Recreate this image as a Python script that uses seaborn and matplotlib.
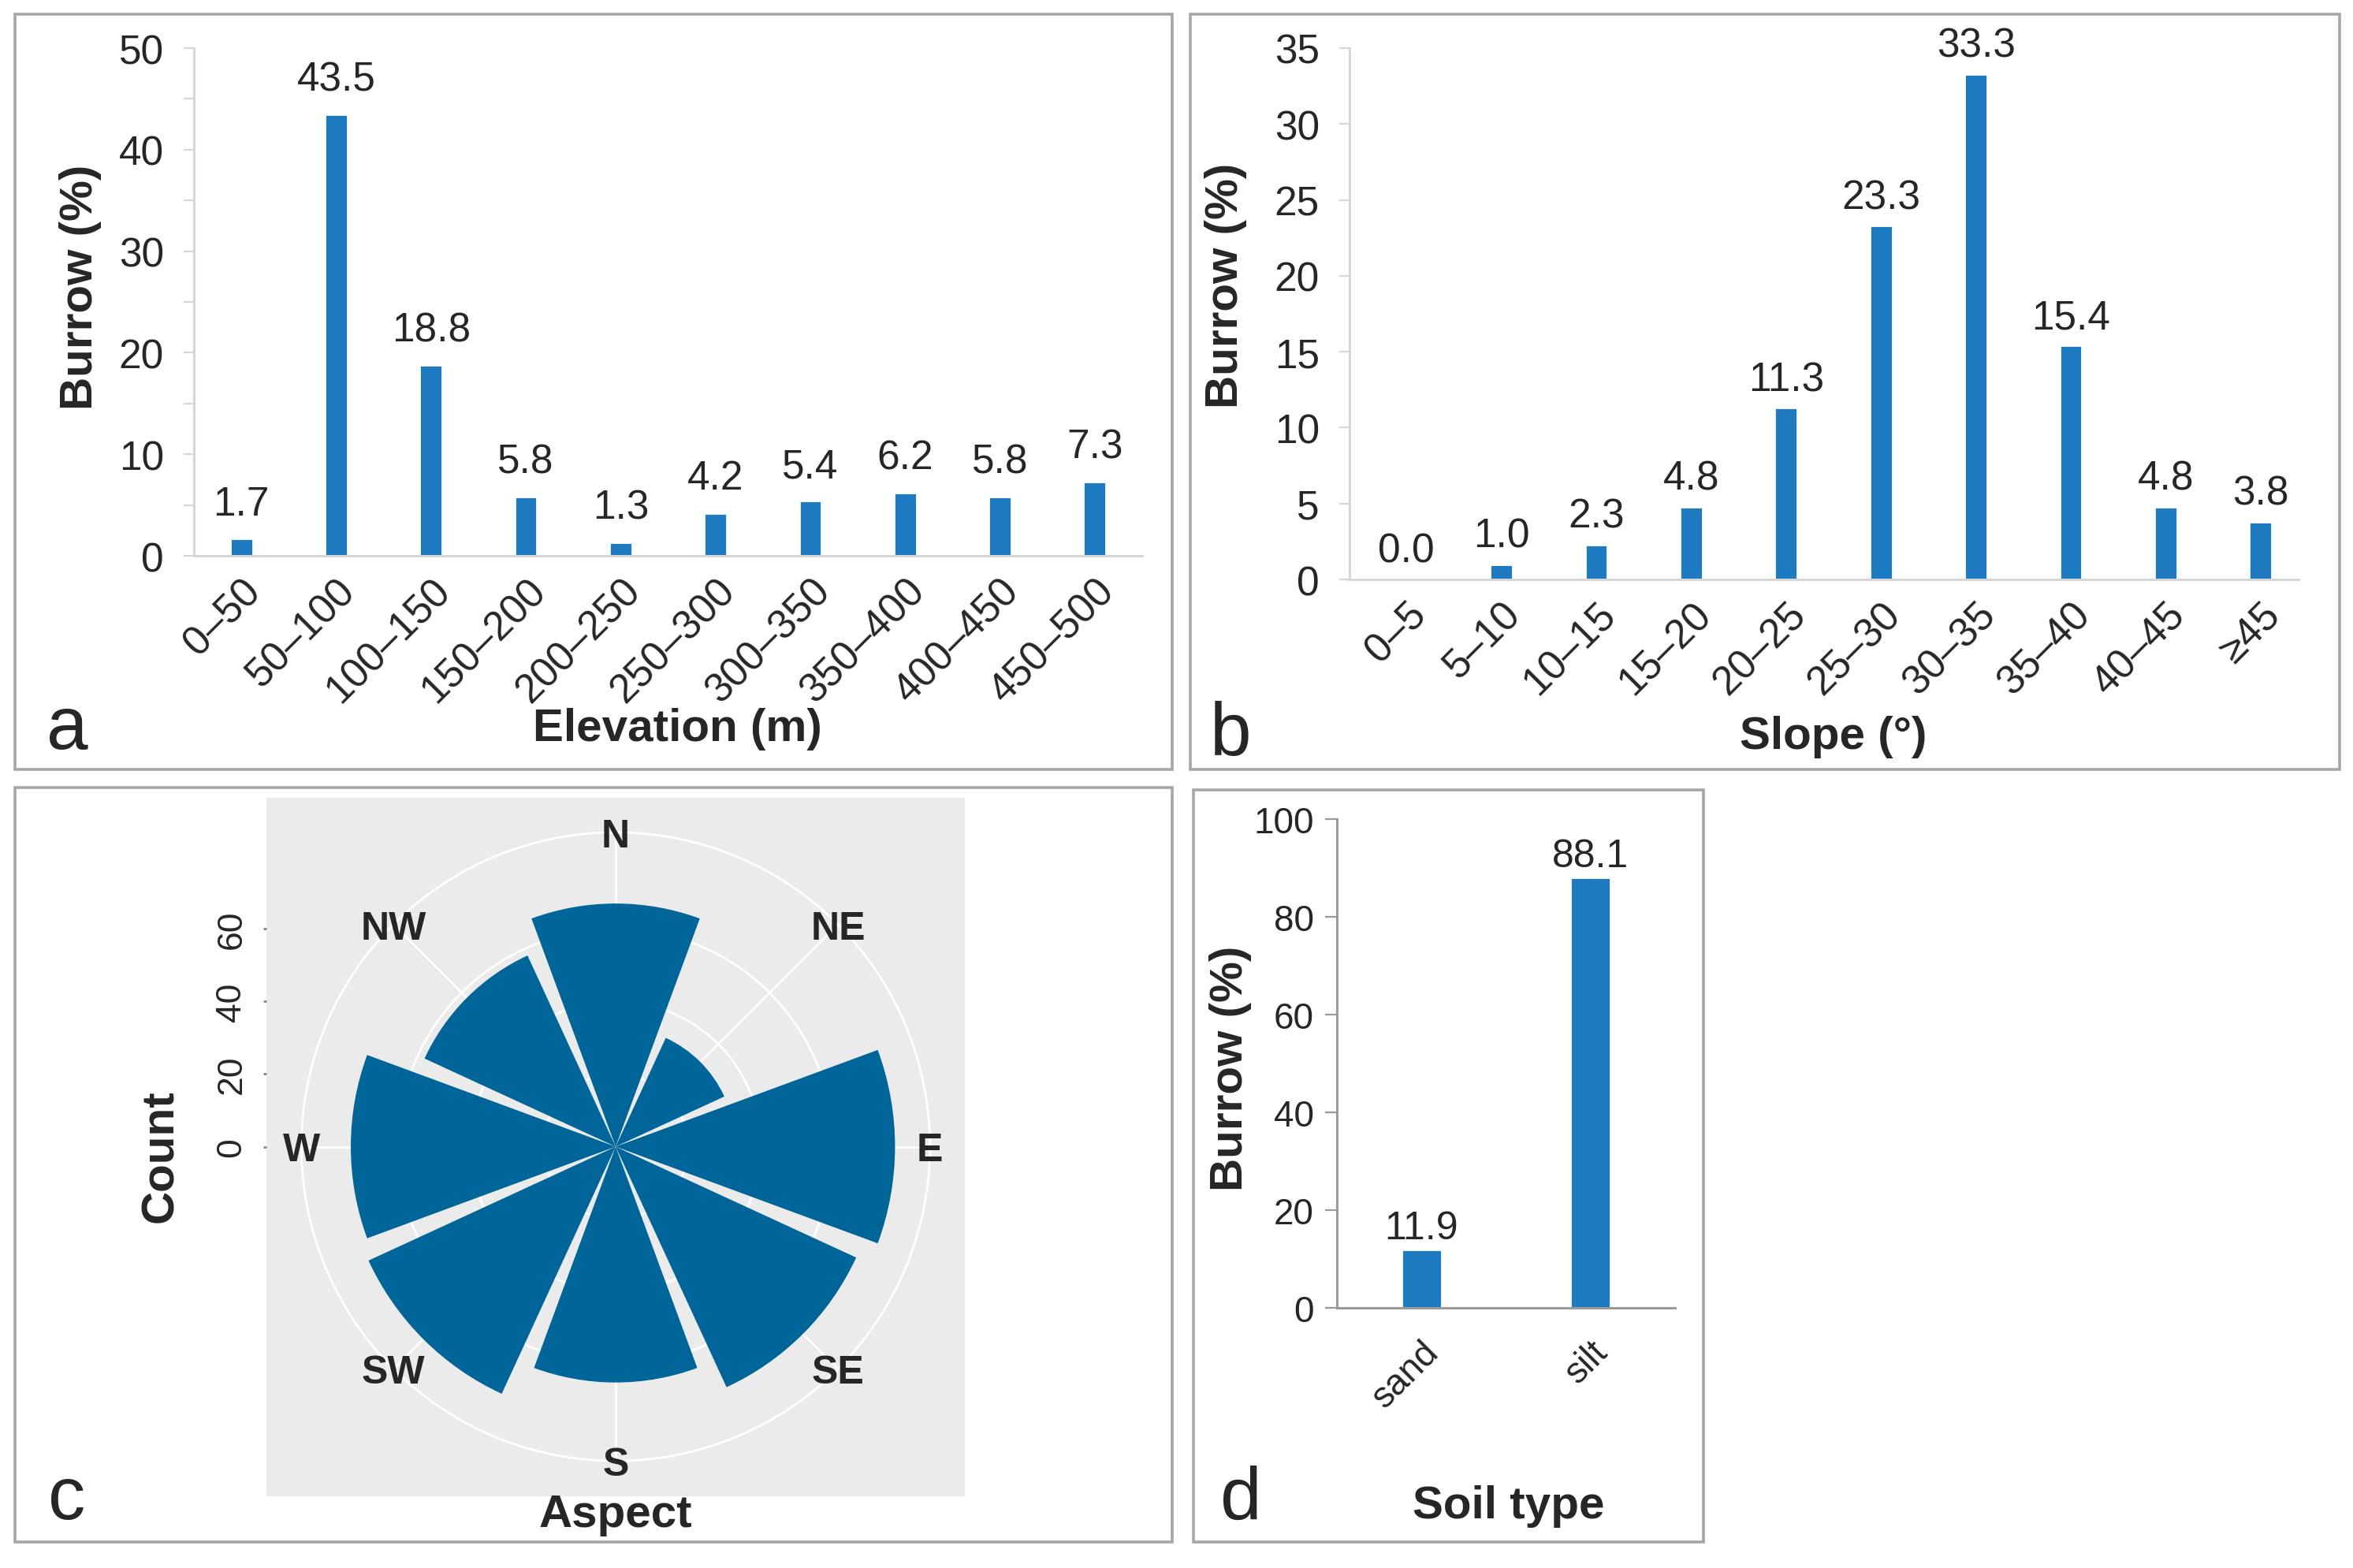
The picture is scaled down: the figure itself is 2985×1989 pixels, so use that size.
import numpy as np
import matplotlib.pyplot as plt
from matplotlib.patches import Rectangle
from matplotlib.ticker import MultipleLocator
import seaborn as sns

# ── Data ──────────────────────────────────────────────────────────────────────
ELEV_BINS = ["0–50", "50–100", "100–150", "150–200", "200–250",
             "250–300", "300–350", "350–400", "400–450", "450–500"]
ELEV_PCT = [1.7, 43.5, 18.8, 5.8, 1.3, 4.2, 5.4, 6.2, 5.8, 7.3]

SLOPE_BINS = ["0–5", "5–10", "10–15", "15–20", "20–25",
              "25–30", "30–35", "35–40", "40–45", "≥45"]
SLOPE_PCT = [0.0, 1.0, 2.3, 4.8, 11.3, 23.3, 33.3, 15.4, 4.8, 3.8]

ASPECT_DIRS = ["N", "NE", "E", "SE", "S", "SW", "W", "NW"]
ASPECT_COUNT = [67, 33, 77, 73, 65, 75, 73, 58]

SOIL_TYPES = ["sand", "silt"]
SOIL_PCT = [11.9, 88.1]

# ── Style ─────────────────────────────────────────────────────────────────────
sns.set_style("ticks")
plt.rcParams["font.family"] = ["Liberation Sans", "DejaVu Sans"]

BAR_BLUE = "#1f7bc1"
ROSE_BLUE = "#006699"
LIGHT_AXIS = "#d6d6d6"
DARK_AXIS = "#9a9a9a"
BORDER = "#a6a6a6"

W, H = 2985, 1990
fig = plt.figure(figsize=(W / 200, H / 200), dpi=200)


def px_axes(left, top, right, bottom, **kw):
    """Add axes from pixel box (origin top-left)."""
    return fig.add_axes([left / W, 1 - bottom / H, (right - left) / W, (bottom - top) / H], **kw)


def panel_border(left, top, right, bottom):
    fig.add_artist(Rectangle((left / W, 1 - bottom / H), (right - left) / W, (bottom - top) / H,
                             transform=fig.transFigure, fill=False, edgecolor=BORDER, linewidth=1.3))


def panel_letter(x, y, s):
    fig.text(x / W, 1 - y / H, s, fontsize=34, ha="center", va="baseline")


def bar_panel(ax, cats, vals, ymax, ystep, label_pad, tick_size, value_size, axis_color,
              ylabel, xlabel, ylab_xy, xlab_xy, xlim, minor=None, ytick_pad=9,
              tick_len=4.7, xtick_pad=7):
    sns.barplot(x=cats, y=vals, color=BAR_BLUE, saturation=1, width=0.24, ax=ax)
    ax.bar_label(ax.containers[0], fmt="%.1f", padding=label_pad, fontsize=value_size)
    ax.set_ylim(0, ymax)
    ax.set_xlim(*xlim)
    ax.yaxis.set_major_locator(MultipleLocator(ystep))
    if minor:
        ax.yaxis.set_minor_locator(MultipleLocator(minor))
    sns.despine(ax=ax)
    for side in ("left", "bottom"):
        ax.spines[side].set_color(axis_color)
        ax.spines[side].set_linewidth(1.1)
    ax.tick_params(axis="y", which="both", length=tick_len, width=0.8, color=axis_color,
                   labelsize=tick_size, pad=ytick_pad)
    ax.tick_params(axis="x", length=0, labelsize=tick_size, pad=xtick_pad)
    for lab in ax.get_xticklabels():
        lab.set_rotation(45)
        lab.set_ha("right")
        lab.set_va("top")
        lab.set_rotation_mode("anchor")
    ax.set_ylabel(ylabel, fontsize=21, fontweight="bold", va="center")
    ax.set_xlabel(xlabel, fontsize=21, fontweight="bold", va="center")
    ax.yaxis.set_label_coords(*ylab_xy)
    ax.xaxis.set_label_coords(*xlab_xy)


# ── Panel a : elevation ───────────────────────────────────────────────────────
panel_border(19, 19, 1487, 977)
ax_a = px_axes(246, 62, 1449, 706)
bar_panel(ax_a, ELEV_BINS, ELEV_PCT, 50, 10, 7, 18.5, 18.5, LIGHT_AXIS,
          "Burrow (%)", "Elevation (m)", (-0.12, 0.53), (0.51, -0.34), (-0.5, 9.5), minor=5)
panel_letter(85, 950, "a")

# ── Panel b : slope ───────────────────────────────────────────────────────────
panel_border(1510, 19, 2968, 977)
ax_b = px_axes(1712, 62, 2916, 736)
bar_panel(ax_b, SLOPE_BINS, SLOPE_PCT, 35, 5, 4, 18.5, 18.5, LIGHT_AXIS,
          "Burrow (%)", "Slope (°)", (-0.13, 0.555), (0.51, -0.295), (-0.6, 9.4))
panel_letter(1561, 958, "b")

# ── Panel c : aspect rose ─────────────────────────────────────────────────────
panel_border(19, 1000, 1487, 1957)
cx, cy, half = 781, 1455.5, 443
rmax = max(ASPECT_COUNT) * 0.45 / 0.4
box_lim = rmax * 0.5 / 0.45

ax_bg = px_axes(cx - half, cy - half, cx + half, cy + half)
ax_bg.set_facecolor("#EBEBEB")
ax_bg.set_xlim(-box_lim, box_lim)
ax_bg.set_ylim(-box_lim, box_lim)
for s in ax_bg.spines.values():
    s.set_visible(False)
ax_bg.set_xticks([])
ax_bg.set_yticks([0, 20, 40, 60])
ax_bg.set_yticklabels(["0", "20", "40", "60"], rotation=90, va="center", fontsize=16)
ax_bg.tick_params(axis="y", length=1.5, width=1, color="#888888", pad=7)
ax_bg.set_ylabel("Count", fontsize=21, fontweight="bold", va="center")
ax_bg.yaxis.set_label_coords(-0.151, 0.488)
ax_bg.set_xlabel("Aspect", fontsize=21, fontweight="bold", va="top")
ax_bg.xaxis.set_label_coords(0.5, 0.004)

r_px = 0.9 * half
ax_c = px_axes(cx - r_px, cy - r_px, cx + r_px, cy + r_px, projection="polar")
ax_c.set_facecolor("none")
theta = np.deg2rad(np.arange(len(ASPECT_DIRS)) * 45)
ax_c.set_theta_zero_location("N")
ax_c.set_theta_direction(-1)
ax_c.bar(theta, ASPECT_COUNT, width=np.deg2rad(45 * 0.9), color=ROSE_BLUE, linewidth=0)
ax_c.set_ylim(0, rmax)
ax_c.set_yticks([20, 40, 60])
ax_c.set_yticklabels([])
ax_c.set_xticks(theta)
ax_c.set_xticklabels([])
ax_c.set_axisbelow(True)
ax_c.grid(color="white", linewidth=1.0)
ax_c.spines["polar"].set_color("white")
ax_c.spines["polar"].set_linewidth(1.0)
# direction labels sit on the outer circle, above the grid
for t, lab in zip(theta, ASPECT_DIRS):
    ax_c.text(t, rmax, lab, fontsize=18, fontweight="bold", ha="center",
              va="center_baseline", zorder=5, clip_on=False)
panel_letter(85, 1927, "c")

# ── Panel d : soil type ───────────────────────────────────────────────────────
panel_border(1514, 1003, 2161, 1957)
ax_d = px_axes(1696, 1040, 2125, 1660)
bar_panel(ax_d, SOIL_TYPES, SOIL_PCT, 100, 20, 1.5, 16.5, 18, DARK_AXIS,
          "Burrow (%)", "Soil type", (-0.315, 0.492), (0.508, -0.405), (-0.5, 1.5),
          ytick_pad=5, tick_len=5.4, xtick_pad=12)
panel_letter(1574, 1928, "d")

fig.savefig("out.png", dpi=200, facecolor="white")
